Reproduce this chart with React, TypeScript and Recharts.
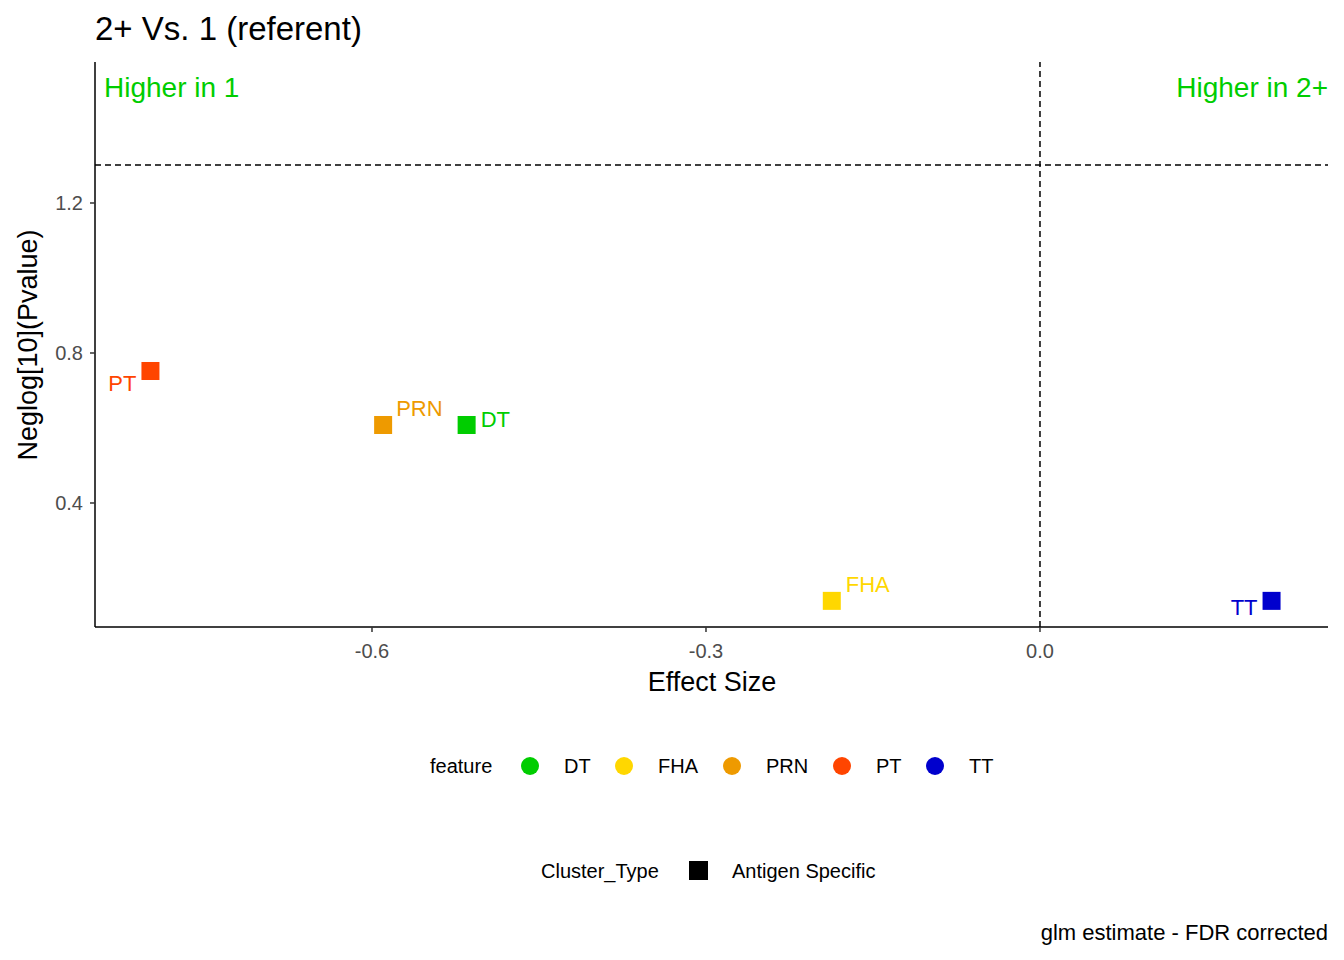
import React from "react";
import {
  ScatterChart,
  Scatter,
  XAxis,
  YAxis,
  ReferenceLine,
  Cell,
} from "recharts";

const features = ["PT", "PRN", "DT", "FHA", "TT"];
const effectSizes = [-0.799, -0.59, -0.515, -0.187, 0.208];
const negLogP = [0.752, 0.608, 0.608, 0.139, 0.139];
const xTicks = [-0.6, -0.3, 0.0];
const yTicks = [0.4, 0.8, 1.2];
const legendFeatures = ["DT", "FHA", "PRN", "PT", "TT"];

const COLORS: Record<string, string> = {
  DT: "#00CD00",
  FHA: "#FFD700",
  PRN: "#EE9A00",
  PT: "#FF4500",
  TT: "#0000CD",
};

// label placement (repel-like) relative to the point
const LABEL_OFFSET: Record<string, [number, number, "start" | "end"]> = {
  PT: [-14, 14, "end"],
  PRN: [13, -15, "start"],
  DT: [14, -4, "start"],
  FHA: [14, -15, "start"],
  TT: [-14, 8, "end"],
};

const data = features.map((f, i) => ({ feature: f, x: effectSizes[i], y: negLogP[i] }));

const FONT = "'Liberation Sans', Arial, sans-serif";

const SquarePoint = (props: any) => {
  const { cx, cy, payload } = props;
  const c = COLORS[payload.feature];
  const [dx, dy, anchor] = LABEL_OFFSET[payload.feature];
  return (
    <g>
      <rect x={cx - 9} y={cy - 9} width={18} height={18} fill={c} />
      <text x={cx + dx} y={cy + dy} textAnchor={anchor} dominantBaseline="middle" fill={c} fontSize={22} fontFamily={FONT}>
        {payload.feature}
      </text>
    </g>
  );
};

const legendPos = [530, 624, 732, 842, 935];

export default function App() {
  return (
    <div style={{ position: "relative", width: 1344, height: 960, margin: -8, fontFamily: FONT, background: "#fff" }}>
      <ScatterChart width={1344} height={960} margin={{ top: 62, right: 16, bottom: 303, left: 35 }}>
        <XAxis
          type="number"
          dataKey="x"
          domain={[-0.8488, 0.2587]}
          ticks={xTicks}
          tickFormatter={(v: number) => v.toFixed(1)}
          height={30}
          allowDataOverflow
          stroke="#000"
          strokeWidth={1.5}
          tick={{ fill: "#4d4d4d", fontSize: 20, fontFamily: FONT, dy: 10 }}
          tickSize={5}
          tickLine={{ stroke: "#333" }}
        />
        <YAxis
          type="number"
          dataKey="y"
          domain={[0.0693, 1.576]}
          ticks={yTicks}
          tickFormatter={(v: number) => v.toFixed(1)}
          width={60}
          allowDataOverflow
          stroke="#000"
          strokeWidth={1.5}
          tick={{ fill: "#4d4d4d", fontSize: 20, fontFamily: FONT, dx: -5 }}
          tickSize={5}
          tickLine={{ stroke: "#333" }}
        />
        <ReferenceLine y={1.301} stroke="#000" strokeWidth={1.5} strokeDasharray="6 4" />
        <ReferenceLine x={0} stroke="#000" strokeWidth={1.5} strokeDasharray="6 4" />
        <Scatter data={data} shape={SquarePoint} isAnimationActive={false}>
          {data.map((d) => (
            <Cell key={d.feature} fill={COLORS[d.feature]} />
          ))}
        </Scatter>
      </ScatterChart>

      <div style={{ position: "absolute", left: 95, top: 10, fontSize: 33 }}>2+ Vs. 1 (referent)</div>
      <div style={{ position: "absolute", left: 104, top: 72, fontSize: 28, color: "#00CD00" }}>Higher in 1</div>
      <div style={{ position: "absolute", right: 16, top: 72, fontSize: 28, color: "#00CD00" }}>Higher in 2+</div>
      <div style={{ position: "absolute", left: 0, width: 1424, textAlign: "center", top: 667, fontSize: 27 }}>Effect Size</div>
      <div
        style={{
          position: "absolute",
          left: 28,
          top: 345,
          fontSize: 27,
          whiteSpace: "nowrap",
          transform: "translate(-50%, -50%) rotate(-90deg)",
        }}
      >
        Neglog[10](Pvalue)
      </div>

      <div style={{ position: "absolute", left: 430, top: 755, fontSize: 20 }}>feature</div>
      {legendFeatures.map((f, i) => (
        <React.Fragment key={f}>
          <div
            style={{
              position: "absolute",
              left: legendPos[i] - 9,
              top: 757,
              width: 18,
              height: 18,
              borderRadius: 9,
              background: COLORS[f],
            }}
          />
          <div style={{ position: "absolute", left: legendPos[i] + 34, top: 755, fontSize: 20 }}>{f}</div>
        </React.Fragment>
      ))}

      <div style={{ position: "absolute", left: 541, top: 860, fontSize: 20 }}>Cluster_Type</div>
      <div style={{ position: "absolute", left: 689, top: 861, width: 19, height: 19, background: "#000" }} />
      <div style={{ position: "absolute", left: 732, top: 860, fontSize: 20 }}>Antigen Specific</div>

      <div style={{ position: "absolute", right: 16, top: 920, fontSize: 22 }}>glm estimate - FDR corrected</div>
    </div>
  );
}
